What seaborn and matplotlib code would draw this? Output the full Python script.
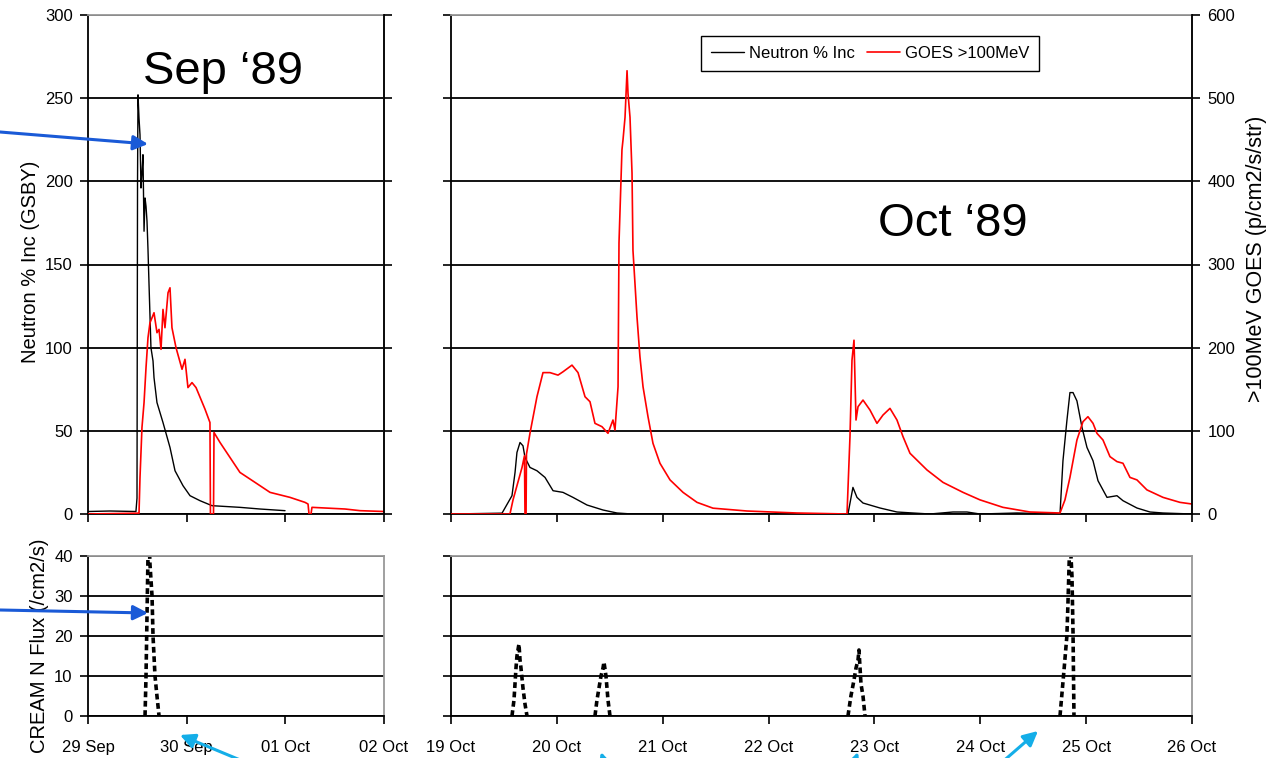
import numpy as np
import pandas as pd
import matplotlib
matplotlib.use("Agg")
import matplotlib.pyplot as plt
import matplotlib.dates as mdates
import seaborn as sns

# ---------------- data (days since panel start) ----------------
SEP_START = "1989-09-29"
OCT_START = "1989-10-19"

sep_neutron_days = [0.0, 0.223, 0.486, 0.4966, 0.502, 0.5067, 0.517, 0.527, 0.537, 0.547, 0.557,
                    0.568, 0.578, 0.588, 0.598, 0.608, 0.618, 0.638, 0.659, 0.669, 0.699,
                    0.760, 0.831, 0.882, 0.963, 1.034, 1.135, 1.257, 1.540, 1.743, 1.997]
sep_neutron_pct = [1.5, 1.8, 1.5, 9.6, 200, 252, 238, 228, 196, 205, 216,
                   170, 190, 185, 176, 159, 139, 100, 92, 82, 67,
                   55, 40, 26, 17, 11, 8, 5, 4, 3, 2]

sep_goes_days = [0.0, 0.517, 0.527, 0.547, 0.568, 0.588, 0.608, 0.628, 0.649, 0.669, 0.699,
                 0.720, 0.740, 0.760, 0.780, 0.811, 0.831, 0.851, 0.892, 0.953, 0.983,
                 1.013, 1.054, 1.095, 1.186, 1.236, 1.241, 1.272, 1.277, 1.338, 1.439,
                 1.540, 1.693, 1.845, 2.047, 2.199, 2.230, 2.240, 2.260, 2.270, 2.605,
                 2.757, 3.0]
sep_goes_flux = [0, 1, 44, 104, 134, 176, 212, 230, 236, 242, 218,
                 222, 198, 246, 224, 266, 272, 224, 200, 174, 186,
                 152, 158, 152, 126, 110, 0, 0, 98, 86, 68,
                 50, 38, 26, 20, 14, 12, 0, 0, 8, 6,
                 4, 3]

oct_neutron_days = [0.0, 0.482, 0.576, 0.605, 0.623, 0.652, 0.680, 0.699, 0.746, 0.812, 0.888,
                    0.964, 1.058, 1.152, 1.285, 1.436, 1.568, 1.710, 3.750, 3.797, 3.835,
                    3.892, 4.053, 4.213, 4.364, 4.525, 4.742, 4.874, 4.997, 5.347, 5.753,
                    5.781, 5.818, 5.847, 5.876, 5.913, 5.961, 6.008, 6.065, 6.112, 6.197,
                    6.291, 6.348, 6.480, 6.603, 6.726, 7.0]
oct_neutron_pct = [0, 0.5, 11, 25, 37, 43, 41, 34, 28, 26, 22,
                   14, 13, 10, 5.4, 2.4, 0.6, 0, 0, 16, 10,
                   6.6, 3.6, 1.2, 0.6, 0, 1.2, 1.2, 0, 0.6, 0,
                   32, 56, 73, 73, 68, 52, 40, 32, 20, 10,
                   11, 8, 3.6, 1.2, 0.6, 0]

oct_goes_days = [0.0, 0.557, 0.586, 0.671, 0.694, 0.699, 0.709, 0.713, 0.746, 0.812, 0.869,
                 0.935, 1.011, 1.058, 1.143, 1.200, 1.266, 1.313, 1.360, 1.426, 1.483,
                 1.530, 1.549, 1.578, 1.587, 1.615, 1.625, 1.644, 1.663, 1.672, 1.691,
                 1.710, 1.719, 1.757, 1.785, 1.814, 1.861, 1.908, 1.974, 2.069, 2.192,
                 2.324, 2.475, 2.796, 3.268, 3.741, 3.769, 3.788, 3.807, 3.826, 3.845,
                 3.892, 3.958, 4.024, 4.081, 4.147, 4.213, 4.270, 4.336, 4.496, 4.648,
                 4.837, 4.997, 5.214, 5.469, 5.753, 5.800, 5.847, 5.913, 5.970, 6.017,
                 6.065, 6.102, 6.159, 6.225, 6.291, 6.348, 6.414, 6.480, 6.574, 6.726,
                 6.886, 7.0]
oct_goes_flux = [0, 0, 17, 56, 70, 0, 0, 72, 97, 141, 170,
                 170, 167, 171, 179, 170, 141, 135, 109, 105, 97,
                 113, 101, 153, 326, 438, 450, 477, 533, 506, 477,
                 410, 317, 237, 189, 153, 117, 85, 61, 41, 26,
                 14, 7, 3.6, 1.2, 0, 93, 185, 209, 113, 129,
                 137, 125, 109, 119, 127, 113, 93, 73, 53, 38,
                 26, 17, 8, 2.4, 1.2, 17, 44, 89, 111, 117,
                 109, 97, 89, 69, 63, 61, 44, 41, 29, 20,
                 14, 12]

sep_cream_days = [0.578, 0.588, 0.598, 0.608, 0.618, 0.628, 0.649, 0.659, 0.679, 0.699, 0.720]
sep_cream_flux = [0, 10, 25, 40, 45, 38, 30, 20, 10, 5, 0]

oct_cream_event = [1] * 10 + [2] * 9 + [3] * 9 + [4] * 8
oct_cream_days = [0.576, 0.595, 0.614, 0.623, 0.642, 0.652, 0.661, 0.680, 0.699, 0.718,
                  1.360, 1.379, 1.398, 1.417, 1.436, 1.445, 1.464, 1.483, 1.502,
                  3.750, 3.778, 3.807, 3.826, 3.845, 3.854, 3.873, 3.892, 3.911,
                  5.753, 5.791, 5.818, 5.828, 5.847, 5.866, 5.876, 5.885]
oct_cream_flux = [0, 4, 12, 15, 18, 14, 12, 7, 3, 0,
                  0, 4, 7, 10, 12, 13.5, 10, 4, 0,
                  0, 5, 9, 12, 14, 16.5, 8, 5, 0,
                  0, 11.5, 20, 28, 45, 35, 21, 0]

neutron_ticks = [0, 50, 100, 150, 200, 250, 300]
goes_ticks = [0, 100, 200, 300, 400, 500, 600]
cream_ticks = [0, 10, 20, 30, 40]


def frame(start, days, vals):
    t = pd.Timestamp(start) + pd.to_timedelta(np.asarray(days, dtype=float), unit="D")
    return pd.DataFrame({"time": t, "value": vals})


sns.set_theme(style="white")
plt.rcParams["font.family"] = ["Liberation Sans", "DejaVu Sans"]
for k in ("text.color", "axes.labelcolor", "xtick.color", "ytick.color", "axes.edgecolor"):
    plt.rcParams[k] = "black"

W, H = 1281, 758
fig = plt.figure(figsize=(W / 100, H / 100), dpi=100)


def rect(x0, y0, x1, y1):
    return [x0 / W, 1 - y1 / H, (x1 - x0) / W, (y1 - y0) / H]


ax_tl = fig.add_axes(rect(88, 15, 384, 514))
ax_tr = fig.add_axes(rect(451, 15, 1192, 514))
ax_bl = fig.add_axes(rect(88, 556, 384, 716))
ax_br = fig.add_axes(rect(451, 556, 1192, 716))
tw_tl = ax_tl.twinx()
tw_tr = ax_tr.twinx()

# lines
sns.lineplot(data=frame(SEP_START, sep_neutron_days, sep_neutron_pct), x="time", y="value",
             ax=ax_tl, color="black", lw=1.0, estimator=None, sort=False)
sns.lineplot(data=frame(SEP_START, sep_goes_days, sep_goes_flux), x="time", y="value",
             ax=tw_tl, color="#ff0000", lw=1.2, estimator=None, sort=False)
sns.lineplot(data=frame(OCT_START, oct_neutron_days, oct_neutron_pct), x="time", y="value",
             ax=ax_tr, color="black", lw=1.0, estimator=None, sort=False, legend=False)
sns.lineplot(data=frame(OCT_START, oct_goes_days, oct_goes_flux), x="time", y="value",
             ax=tw_tr, color="#ff0000", lw=1.2, estimator=None, sort=False, legend=False)
sns.lineplot(data=frame(SEP_START, sep_cream_days, sep_cream_flux), x="time", y="value",
             ax=ax_bl, color="black", lw=2.6, estimator=None, sort=False)
oct_cream_df = frame(OCT_START, oct_cream_days, oct_cream_flux)
oct_cream_df["event"] = oct_cream_event
sns.lineplot(data=oct_cream_df, x="time", y="value", units="event",
             ax=ax_br, color="black", lw=2.6, estimator=None, sort=False)
for a in (ax_bl, ax_br):
    for ln in a.get_lines():
        ln.set_dashes((1.6, 1.0))

sep_lim = (pd.Timestamp(SEP_START), pd.Timestamp(SEP_START) + pd.Timedelta(days=3))
oct_lim = (pd.Timestamp(OCT_START), pd.Timestamp(OCT_START) + pd.Timedelta(days=7))

for a, lim in ((ax_tl, sep_lim), (ax_bl, sep_lim), (ax_tr, oct_lim), (ax_br, oct_lim),
               (tw_tl, sep_lim), (tw_tr, oct_lim)):
    a.set_xlim(*lim)
    a.xaxis.set_major_locator(mdates.DayLocator())
    a.xaxis.set_major_formatter(mdates.DateFormatter("%d %b"))
    a.set_xlabel("")
    a.set_ylabel("")

for a in (ax_tl, ax_tr):
    a.set_ylim(0, 300)
    a.set_yticks(neutron_ticks)
for a in (tw_tl, tw_tr):
    a.set_ylim(0, 600)
    a.set_yticks(goes_ticks)
for a in (ax_bl, ax_br):
    a.set_ylim(0, 40)
    a.set_yticks(cream_ticks)

for a in (ax_tl, ax_tr, ax_bl, ax_br):
    a.yaxis.grid(True, color="black", lw=1.3)
    a.xaxis.grid(False)
    a.set_axisbelow(True)
    a.tick_params(axis="both", which="major", direction="out", length=6, width=1.2,
                  color="black", labelsize=12, labelcolor="black", bottom=True, left=True)
    a.tick_params(axis="y", pad=5)
    a.tick_params(axis="x", pad=11)
    for s in ("left", "bottom"):
        a.spines[s].set_color("black")
        a.spines[s].set_linewidth(1.3)
    a.spines["top"].set_color("#999999")
    a.spines["top"].set_linewidth(1.3)
    a.spines["right"].set_color("#999999")
    a.spines["right"].set_linewidth(1.3)

for a in (ax_tl, ax_tr):
    a.tick_params(axis="x", labelbottom=False)
ax_tr.tick_params(axis="y", labelleft=False)
ax_br.tick_params(axis="y", labelleft=False)

for t in (tw_tl, tw_tr):
    t.grid(False)
    t.tick_params(axis="y", direction="out", length=6, width=1.2, color="black",
                  labelsize=12, labelcolor="black", pad=5, right=True)
    t.tick_params(axis="x", bottom=False, labelbottom=False)
    for s in t.spines.values():
        s.set_visible(False)
    t.spines["right"].set_visible(True)
    t.spines["right"].set_color("black")
    t.spines["right"].set_linewidth(1.3)
tw_tl.tick_params(axis="y", labelright=False)

# axis labels
ax_tl.set_ylabel("Neutron % Inc (GSBY)", fontsize=14.5)
ax_tl.yaxis.set_label_coords(-0.163, 0.505)
ax_bl.set_ylabel("CREAM N Flux (/cm2/s)", fontsize=14.5)
ax_bl.yaxis.set_label_coords(-0.132, 0.44)
tw_tr.set_ylabel(">100MeV GOES (p/cm2/s/str)", fontsize=15.5)
tw_tr.yaxis.set_label_coords(1.0735, 0.511)

# panel titles
fig.text(143 / W, 1 - 84 / H, "Sep \u201889", fontsize=34, ha="left", va="baseline")
fig.text(878 / W, 1 - 236 / H, "Oct \u201889", fontsize=34, ha="left", va="baseline")

# legend
h1 = ax_tr.get_lines()[0]
h2 = tw_tr.get_lines()[0]
leg = tw_tr.legend([h1, h2], ["Neutron % Inc", "GOES >100MeV"], ncol=2,
                   loc="center", bbox_to_anchor=(870 / W, 1 - 53 / H),
                   bbox_transform=fig.transFigure, fontsize=12, frameon=True,
                   fancybox=False, edgecolor="black", framealpha=1,
                   handlelength=2.0, handletextpad=0.3, columnspacing=0.7,
                   borderpad=0.6, borderaxespad=0)
leg.get_frame().set_linewidth(1.0)

# annotation arrows (figure pixels)
dark = "#1a5ad7"
light = "#14aee8"
arrows = [((0, H - 132), (148, H - 144), dark),
          ((0, H - 610), (148, H - 613), dark),
          ((245, H - 762), (180, H - 735), light),
          ((608, H - 775), (601, H - 752), light),
          ((850, H - 775), (858, H - 752), light),
          ((1000, H - 764), (1038, H - 731), light)]
for tail, head, col in arrows:
    ax_bl.annotate("", xy=head, xytext=tail, xycoords="figure pixels",
                   textcoords="figure pixels",
                   arrowprops=dict(arrowstyle="-|>", color=col, lw=2.2,
                                   mutation_scale=22, shrinkA=0, shrinkB=0),
                   annotation_clip=False)

fig.savefig("out.png", dpi=100)
